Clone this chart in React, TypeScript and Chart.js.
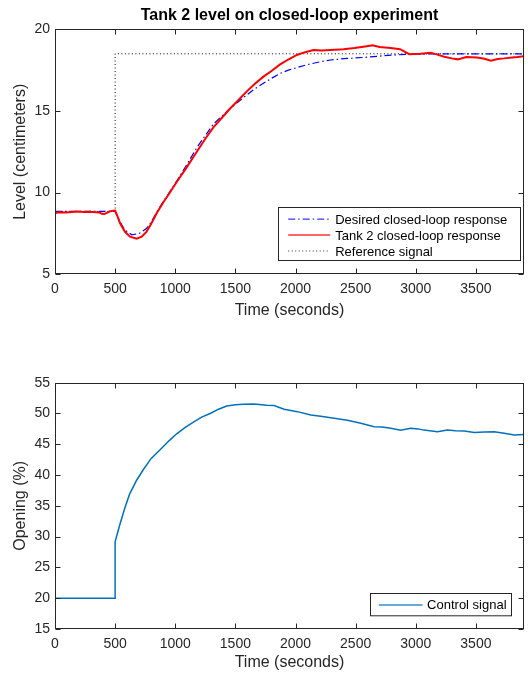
import React, { useEffect, useRef } from "react";
import { Chart, registerables } from "chart.js";

Chart.register(...registerables);

const FONT = '"Liberation Sans", Arial, Helvetica, sans-serif';
const AXIS = "#262626";

// ---------- Top chart data (time in seconds, level in cm) ----------
const desiredTime = [0, 500, 541, 582, 638, 700, 760, 800, 850, 900, 950, 1012, 1095, 1179, 1250, 1317, 1390, 1456, 1530, 1595, 1660, 1733, 1800, 1872, 1940, 2011, 2080, 2149, 2220, 2292, 2400, 2571, 2700, 2800, 2929, 3100, 3300, 3600, 3900];
const desiredLevel = [8.85, 8.85, 8.2, 7.7, 7.42, 7.5, 7.8, 8.2, 8.85, 9.45, 10.0, 10.7, 11.7, 12.75, 13.5, 14.2, 14.7, 15.15, 15.6, 15.98, 16.35, 16.69, 17.0, 17.3, 17.5, 17.65, 17.8, 17.92, 18.03, 18.12, 18.2, 18.28, 18.36, 18.42, 18.47, 18.49, 18.5, 18.5, 18.5];

const tankTime = [0, 40, 90, 140, 190, 240, 290, 340, 370, 390, 410, 440, 470, 500, 520, 541, 582, 624, 679, 721, 760, 800, 850, 900, 950, 1012, 1095, 1179, 1250, 1317, 1390, 1456, 1530, 1595, 1660, 1733, 1800, 1872, 1940, 2011, 2080, 2149, 2220, 2290, 2400, 2490, 2580, 2640, 2700, 2790, 2870, 2945, 3040, 3125, 3180, 3236, 3300, 3350, 3420, 3510, 3570, 3625, 3680, 3735, 3800, 3846, 3900];
const tankLevel = [8.75, 8.8, 8.78, 8.82, 8.85, 8.82, 8.83, 8.8, 8.78, 8.7, 8.69, 8.8, 8.88, 8.9, 8.55, 8.12, 7.6, 7.3, 7.18, 7.3, 7.6, 8.1, 8.8, 9.4, 9.95, 10.65, 11.55, 12.5, 13.3, 14.0, 14.6, 15.15, 15.7, 16.2, 16.65, 17.1, 17.45, 17.85, 18.15, 18.43, 18.6, 18.73, 18.7, 18.73, 18.78, 18.85, 18.95, 19.02, 18.92, 18.85, 18.78, 18.48, 18.5, 18.57, 18.45, 18.32, 18.22, 18.16, 18.3, 18.28, 18.2, 18.08, 18.18, 18.22, 18.28, 18.3, 18.35];

const referenceTime = [0, 500, 500, 3900];
const referenceLevel = [8.85, 8.85, 18.5, 18.5];

// ---------- Bottom chart data (time in seconds, opening in %) ----------
const controlTime = [0, 500, 500, 540, 580, 620, 680, 735, 800, 874, 950, 1012, 1080, 1151, 1220, 1290, 1360, 1428, 1500, 1567, 1650, 1700, 1761, 1822, 1905, 2016, 2127, 2210, 2293, 2432, 2543, 2654, 2720, 2792, 2875, 2958, 3020, 3069, 3180, 3264, 3330, 3403, 3486, 3570, 3652, 3735, 3819, 3900];
const controlOpening = [20, 20, 29.2, 32.0, 34.6, 36.9, 39.2, 40.9, 42.7, 44.1, 45.6, 46.7, 47.7, 48.6, 49.4, 50.0, 50.7, 51.2, 51.4, 51.5, 51.55, 51.45, 51.35, 51.3, 50.7, 50.3, 49.75, 49.55, 49.3, 48.9, 48.4, 47.85, 47.8, 47.6, 47.3, 47.6, 47.5, 47.3, 47.05, 47.3, 47.2, 47.15, 46.9, 47.0, 47.05, 46.8, 46.5, 46.6];

// ---------- Tick values ----------
const xTickValues = [0, 500, 1000, 1500, 2000, 2500, 3000, 3500];
const topYTickValues = [5, 10, 15, 20];
const bottomYTickValues = [15, 20, 25, 30, 35, 40, 45, 50, 55];

const pts = (xs: number[], ys: number[]) => xs.map((x, i) => ({ x, y: ys[i] }));
const setTicks = (values: number[]) => (s: any) => {
  s.ticks = values.map((v) => ({ value: v }));
};

// Frame with inward ticks on all four sides (MATLAB box style)
const framePlugin = {
  id: "frame",
  afterDatasetsDraw(chart: any) {
    const { ctx, chartArea: a, scales } = chart;
    const xs = scales.x;
    const ys = scales.y;
    const tl = 5;
    const L = Math.round(a.left) + 0.5;
    const R = Math.round(a.right) - 0.5;
    const T = Math.round(a.top) + 0.5;
    const B = Math.round(a.bottom) - 0.5;
    ctx.save();
    ctx.strokeStyle = AXIS;
    ctx.lineWidth = 1;
    ctx.beginPath();
    xs.ticks.forEach((t: any) => {
      const px = Math.round(xs.getPixelForValue(t.value)) + 0.5;
      ctx.moveTo(px, B);
      ctx.lineTo(px, B - tl);
      ctx.moveTo(px, T);
      ctx.lineTo(px, T + tl);
    });
    ys.ticks.forEach((t: any) => {
      const py = Math.round(ys.getPixelForValue(t.value)) + 0.5;
      ctx.moveTo(L, py);
      ctx.lineTo(L + tl, py);
      ctx.moveTo(R, py);
      ctx.lineTo(R - tl, py);
    });
    ctx.stroke();
    ctx.strokeRect(L, T, R - L, B - T);
    ctx.restore();
  },
};

// Boxed legend inside the plot area
const boxLegendPlugin = {
  id: "boxLegend",
  afterDraw(chart: any, _args: any, opts: any) {
    if (!opts || !opts.display) return;
    const { ctx, chartArea: a } = chart;
    const w = opts.width;
    const h = opts.height;
    const x0 = Math.round(a.right - opts.rightGap - w) + 0.5;
    const y0 = Math.round(a.bottom - opts.bottomGap - h) + 0.5;
    ctx.save();
    ctx.fillStyle = "#ffffff";
    ctx.fillRect(x0, y0, w, h);
    ctx.strokeStyle = AXIS;
    ctx.lineWidth = 1;
    ctx.strokeRect(x0, y0, w, h);
    ctx.font = `${opts.fontSize}px ${FONT}`;
    ctx.textBaseline = "alphabetic";
    ctx.textAlign = "left";
    chart.data.datasets.forEach((ds: any, i: number) => {
      const ly = y0 + opts.firstRow + i * opts.rowStep;
      ctx.save();
      ctx.strokeStyle = ds.borderColor;
      ctx.globalAlpha = 0.8;
      ctx.lineWidth = Math.min(ds.borderWidth, 1.5);
      ctx.setLineDash(ds.borderDash || []);
      ctx.beginPath();
      ctx.moveTo(x0 + opts.sampleStart, ly);
      ctx.lineTo(x0 + opts.sampleStart + opts.sampleLen, ly);
      ctx.stroke();
      ctx.restore();
      ctx.fillStyle = "#000000";
      ctx.fillText(ds.label, x0 + opts.textStart, ly + 4.5);
    });
    ctx.restore();
  },
};

function axisCommon(extra: any) {
  return {
    grid: { display: false, drawTicks: false },
    border: { display: false },
    ...extra,
  };
}

const tickFont = { family: FONT, size: 14 };
const labelFont = { family: FONT, size: 16, lineHeight: 1.2 };
const plainLabel = (v: any) => String(v);

function TopChart() {
  const ref = useRef<HTMLCanvasElement | null>(null);
  useEffect(() => {
    if (!ref.current) return;
    const chart = new Chart(ref.current, {
      type: "line",
      data: {
        datasets: [
          {
            label: "Desired closed-loop response",
            data: pts(desiredTime, desiredLevel),
            borderColor: "#0000ff",
            borderWidth: 1.2,
            borderDash: [7, 3, 1.5, 3],
            pointRadius: 0,
            tension: 0,
            fill: false,
            order: 1,
          },
          {
            label: "Tank 2 closed-loop response",
            data: pts(tankTime, tankLevel),
            borderColor: "#ff0000",
            borderWidth: 2,
            pointRadius: 0,
            tension: 0,
            fill: false,
            order: 0,
          },
          {
            label: "Reference signal",
            data: pts(referenceTime, referenceLevel),
            borderColor: "#000000",
            borderWidth: 1,
            borderDash: [1, 2.5],
            pointRadius: 0,
            tension: 0,
            fill: false,
            order: 2,
          },
        ],
      },
      options: {
        animation: false,
        responsive: false,
        devicePixelRatio: 1,
        events: [],
        layout: { padding: { left: 0, right: 4, top: 0, bottom: 0 } },
        plugins: {
          legend: { display: false },
          tooltip: { enabled: false },
          title: {
            display: true,
            text: "Tank 2 level on closed-loop experiment",
            fullSize: false,
            color: "#000000",
            font: { family: FONT, size: 16, weight: "bold", lineHeight: 1.2 },
            padding: { top: 5.5, bottom: 4.6 },
          },
          boxLegend: {
            display: true,
            width: 242,
            height: 53,
            rightGap: 4.3,
            bottomGap: 14.3,
            fontSize: 13,
            firstRow: 11.7,
            rowStep: 15.9,
            sampleStart: 9.7,
            sampleLen: 42,
            textStart: 56.7,
          },
        } as any,
        scales: {
          x: axisCommon({
            type: "linear",
            min: 0,
            max: 3900,
            afterFit: (s: any) => {
              s.height = 62.7;
            },
            afterBuildTicks: setTicks(xTickValues),
            ticks: {
              autoSkip: false,
              maxRotation: 0,
              minRotation: 0,
              padding: 6.5,
              color: AXIS,
              font: tickFont,
              callback: plainLabel,
            },
            title: {
              display: true,
              text: "Time (seconds)",
              color: AXIS,
              font: labelFont,
              padding: { top: 0, bottom: 17.2 },
            },
          }),
          y: axisCommon({
            type: "linear",
            min: 5,
            max: 20,
            afterFit: (s: any) => {
              s.width = 55;
            },
            afterBuildTicks: setTicks(topYTickValues),
            ticks: {
              autoSkip: false,
              padding: 5,
              color: AXIS,
              font: tickFont,
              callback: plainLabel,
            },
            title: {
              display: true,
              text: "Level (centimeters)",
              color: AXIS,
              font: labelFont,
              padding: { top: 11, bottom: 0 },
            },
          }),
        },
      } as any,
      plugins: [framePlugin, boxLegendPlugin],
    });
    return () => chart.destroy();
  }, []);
  return (
    <canvas
      ref={ref}
      width={528}
      height={337}
      style={{ position: "absolute", left: 0, top: 0, width: 528, height: 337 }}
    />
  );
}

function BottomChart() {
  const ref = useRef<HTMLCanvasElement | null>(null);
  useEffect(() => {
    if (!ref.current) return;
    const chart = new Chart(ref.current, {
      type: "line",
      data: {
        datasets: [
          {
            label: "Control signal",
            data: pts(controlTime, controlOpening),
            borderColor: "#0072BD",
            borderWidth: 1.5,
            pointRadius: 0,
            tension: 0,
            fill: false,
          },
        ],
      },
      options: {
        animation: false,
        responsive: false,
        devicePixelRatio: 1,
        events: [],
        layout: { padding: { left: 0, right: 4, top: 45.7, bottom: 0 } },
        plugins: {
          legend: { display: false },
          tooltip: { enabled: false },
          title: { display: false },
          boxLegend: {
            display: true,
            width: 141,
            height: 22.3,
            rightGap: 13.3,
            bottomGap: 14,
            fontSize: 13,
            firstRow: 11.4,
            rowStep: 15.9,
            sampleStart: 8.3,
            sampleLen: 43.7,
            textStart: 56.6,
          },
        } as any,
        scales: {
          x: axisCommon({
            type: "linear",
            min: 0,
            max: 3900,
            afterFit: (s: any) => {
              s.height = 46;
            },
            afterBuildTicks: setTicks(xTickValues),
            ticks: {
              autoSkip: false,
              maxRotation: 0,
              minRotation: 0,
              padding: 7,
              color: AXIS,
              font: tickFont,
              callback: plainLabel,
            },
            title: {
              display: true,
              text: "Time (seconds)",
              color: AXIS,
              font: labelFont,
              padding: { top: 0, bottom: 2.6 },
            },
          }),
          y: axisCommon({
            type: "linear",
            min: 15,
            max: 55,
            afterFit: (s: any) => {
              s.width = 55;
            },
            afterBuildTicks: setTicks(bottomYTickValues),
            ticks: {
              autoSkip: false,
              padding: 5,
              color: AXIS,
              font: tickFont,
              callback: plainLabel,
            },
            title: {
              display: true,
              text: "Opening (%)",
              color: AXIS,
              font: labelFont,
              padding: { top: 11, bottom: 0 },
            },
          }),
        },
      } as any,
      plugins: [framePlugin, boxLegendPlugin],
    });
    return () => chart.destroy();
  }, []);
  return (
    <canvas
      ref={ref}
      width={528}
      height={338}
      style={{ position: "absolute", left: 0, top: 337, width: 528, height: 338 }}
    />
  );
}

export default function App() {
  return (
    <div
      style={{
        position: "fixed",
        left: 0,
        top: 0,
        width: 528,
        height: 675,
        background: "#ffffff",
        overflow: "hidden",
      }}
    >
      <TopChart />
      <BottomChart />
    </div>
  );
}
